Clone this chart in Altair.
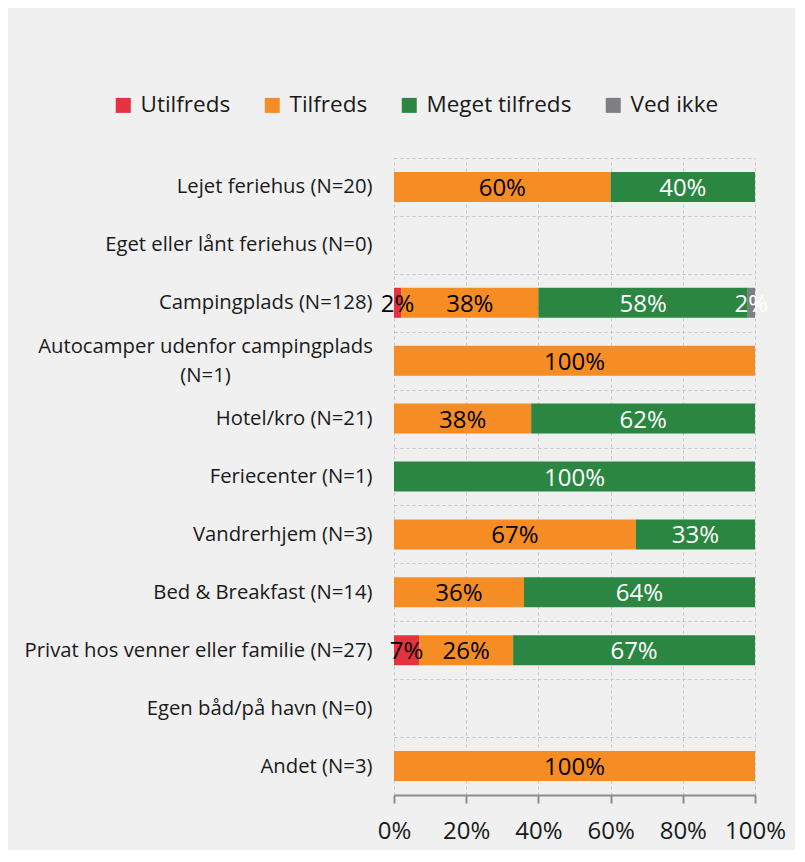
import altair as alt
import pandas as pd

categories = [
    "Lejet feriehus (N=20)",
    "Eget eller lånt feriehus (N=0)",
    "Campingplads (N=128)",
    "Autocamper udenfor campingplads (N=1)",
    "Hotel/kro (N=21)",
    "Feriecenter (N=1)",
    "Vandrerhjem (N=3)",
    "Bed & Breakfast (N=14)",
    "Privat hos venner eller familie (N=27)",
    "Egen båd/på havn (N=0)",
    "Andet (N=3)",
]
series = ["Utilfreds", "Tilfreds", "Meget tilfreds", "Ved ikke"]
utilfreds = [0, 0, 2, 0, 0, 0, 0, 0, 7, 0, 0]
tilfreds = [60, 0, 38, 100, 38, 0, 67, 36, 26, 0, 100]
meget_tilfreds = [40, 0, 58, 0, 62, 100, 33, 64, 67, 0, 0]
ved_ikke = [0, 0, 2, 0, 0, 0, 0, 0, 0, 0, 0]
colors = ["#E5323F", "#F68C24", "#2B8642", "#7F7F83"]
label_colors = ["#000000", "#000000", "#FFFFFF", "#FFFFFF"]
x_ticks = [0, 20, 40, 60, 80, 100]

FONT = "Open Sans"
WRAPPED = "Autocamper udenfor campingplads (N=1)"
TEST = "datum.value == '" + WRAPPED + "'"

rows = []
for s_i, (s, vals) in enumerate(zip(series, [utilfreds, tilfreds, meget_tilfreds, ved_ikke])):
    for c, v in zip(categories, vals):
        if v > 0:
            rows.append({"category": c, "series": s, "value": v, "order": s_i, "tc": label_colors[s_i]})
df = pd.DataFrame(rows)

label_expr = (
    "datum.label == '" + WRAPPED + "' ? "
    "['Autocamper udenfor campingplads', '(N=1)'] : datum.label"
)

y_enc = alt.Y(
    "category:N",
    scale=alt.Scale(domain=categories, paddingInner=0, paddingOuter=0),
    axis=alt.Axis(
        title=None, domain=False, ticks=False, tickBand="extent", grid=True,
        gridDash=[3, 3], gridColor="#c6c6c6", gridWidth=1,
        labelFont=FONT, labelFontSize=20.3, labelColor="#1a1a1a",
        labelLimit=500, labelExpr=label_expr, labelLineHeight=29,
        labelAlign={"condition": {"test": TEST, "value": "center"}, "value": "right"},
        labelPadding={"condition": {"test": TEST, "value": 189}, "value": 22},
        labelOffset={"condition": {"test": TEST, "value": -14.5}, "value": 0},
    ),
)

base = alt.Chart(df).transform_stack(
    stack="value", groupby=["category"], as_=["x0", "x1"],
    sort=[alt.SortField("order", order="ascending")],
).transform_calculate(mid="(datum.x0 + datum.x1) / 2", label="datum.value + '%'")

bars = base.mark_bar(size=30).encode(
    y=y_enc,
    x=alt.X(
        "x0:Q",
        scale=alt.Scale(domain=[0, 100], nice=False),
        axis=alt.Axis(
            title=None, values=x_ticks, labelExpr="datum.value + '%'", grid=True,
            gridDash=[3, 3], gridColor="#c6c6c6", gridWidth=1,
            domainColor="#8c8c8c", domainWidth=2, tickColor="#8c8c8c", tickWidth=2,
            tickSize=8, labelFont=FONT, labelFontSize=24, labelColor="#1a1a1a",
            labelPadding=16, labelFlush=False, labelOverlap=False,
        ),
    ),
    x2="x1:Q",
    color=alt.Color(
        "series:N",
        scale=alt.Scale(domain=series, range=colors),
        sort=series,
        legend=alt.Legend(
            title=None, orient="none", legendX=-282, legendY=-64, direction="horizontal",
            symbolType="square", symbolSize=225, symbolStrokeWidth=0,
            labelFont=FONT, labelFontSize=22.5, labelColor="#1a1a1a",
            columnPadding=30, labelOffset=6, padding=0,
        ),
    ),
)

texts = base.mark_text(font=FONT, fontSize=24, baseline="middle", align="center", dy=2).encode(
    y=alt.Y("category:N", scale=alt.Scale(domain=categories)),
    x=alt.X("mid:Q"),
    text="label:N",
    color=alt.Color("tc:N", scale=None),
)

chart = (
    alt.layer(bars, texts)
    .properties(
        width=361, height=637, background="#f0f0f0",
        autosize=alt.AutoSizeParams(type="none"),
        padding={"left": 386, "top": 150, "right": 40, "bottom": 55},
    )
    .configure_view(stroke=None)
)

chart.save("out.html", embed_options={"renderer": "svg", "actions": False})
